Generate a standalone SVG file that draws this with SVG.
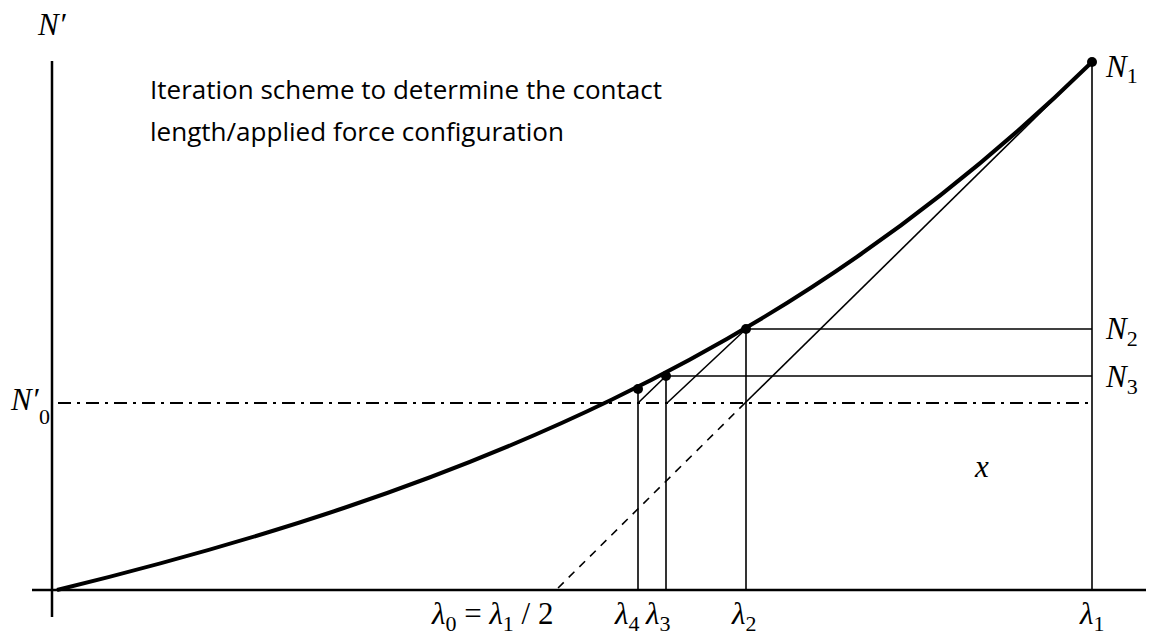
<svg xmlns="http://www.w3.org/2000/svg" width="1157" height="639" viewBox="0 0 1157 639">
<style>
.ax{stroke:#000;stroke-width:2.5;fill:none}
.ln{stroke:#000;stroke-width:1.6;fill:none}
.cv{stroke:#000;stroke-width:4;fill:none}
.dd{stroke:#000;stroke-width:1.6;fill:none;stroke-dasharray:8 7}
.dc{stroke:#000;stroke-width:2;fill:none;stroke-dasharray:13 6 3 6}
.m{font-family:"Liberation Serif",serif;font-style:italic;font-size:31px;fill:#000}
.s{font-family:"Liberation Serif",serif;font-style:normal;font-size:22px;fill:#000}
.t{font-family:"Open Sans","Liberation Sans",sans-serif;font-size:25px;fill:#000}
</style>
<rect width="1157" height="639" fill="#fff"/>
<g id="connectors">
<line class="ax" x1="52" y1="61" x2="52" y2="617"/>
<line class="ax" x1="32" y1="590" x2="1146" y2="590"/>
<line class="ln" x1="1092" y1="62" x2="1092" y2="590"/>
<line class="ln" x1="746" y1="329" x2="1092" y2="329"/>
<line class="ln" x1="666" y1="376" x2="1092" y2="376"/>
<line class="dc" x1="58" y1="403" x2="1092" y2="403"/>
<line class="ln" x1="746" y1="329" x2="746" y2="590"/>
<line class="ln" x1="666" y1="376" x2="666" y2="590"/>
<line class="ln" x1="638" y1="389" x2="638" y2="590"/>
<line class="ln" x1="1092" y1="62" x2="745" y2="403"/>
<line class="dd" x1="745" y1="403" x2="556" y2="590"/>
<line class="ln" x1="746" y1="329" x2="667" y2="403"/>
<line class="ln" x1="666" y1="376" x2="638" y2="403"/>
<path class="cv" d="M57,590 C457,492 792,356 1092,62"/>
</g>
<g id="n1"><circle cx="1092" cy="62" r="5"/><text class="m" x="1106" y="77">N<tspan class="s" dy="6">1</tspan></text></g>
<g id="n2"><circle cx="746" cy="329" r="5"/><text class="m" x="1106" y="339">N<tspan class="s" dy="7">2</tspan></text></g>
<g id="n3"><circle cx="666" cy="376" r="5"/><text class="m" x="1106" y="387">N<tspan class="s" dy="7">3</tspan></text></g>
<g id="n4"><circle cx="638" cy="389" r="5"/></g>
<g id="labels">
<text class="m" x="38" y="35">N′</text>
<text class="m" x="11" y="410">N′</text>
<text class="s" x="39" y="424">0</text>
<text class="m" x="975" y="477">x</text>
<text class="m" x="1080" y="624">λ<tspan class="s" dy="7">1</tspan></text>
<text class="m" x="732" y="624">λ<tspan class="s" dy="7">2</tspan></text>
<text class="m" x="646" y="624">λ<tspan class="s" dy="7">3</tspan></text>
<text class="m" x="615" y="624">λ<tspan class="s" dy="7">4</tspan></text>
<text class="m" x="432" y="624">λ<tspan class="s" dy="7">0</tspan><tspan font-style="normal" dy="-7"> = </tspan>λ<tspan class="s" dy="7">1</tspan><tspan font-style="normal" dy="-7"> / 2</tspan></text>
<text class="t" x="150" y="99" textLength="512" lengthAdjust="spacingAndGlyphs">Iteration scheme to determine the contact</text>
<text class="t" x="150" y="141" textLength="414" lengthAdjust="spacingAndGlyphs">length/applied force configuration</text>
</g>
</svg>
